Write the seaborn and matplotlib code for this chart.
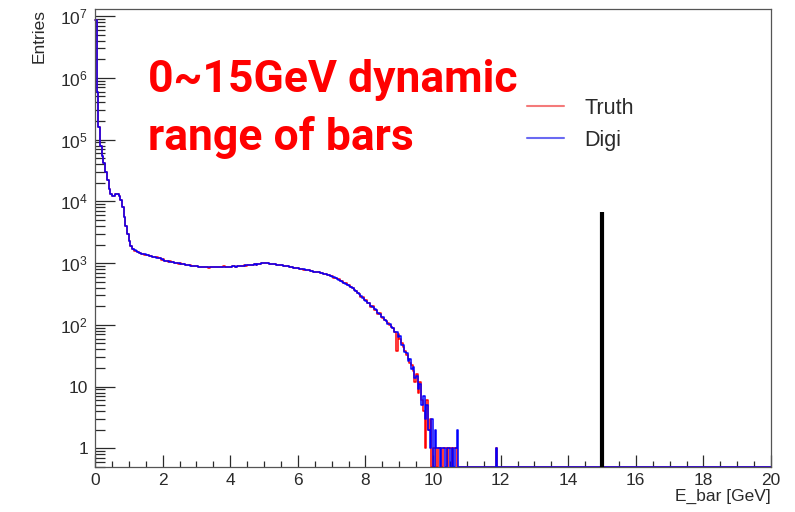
import numpy as np
import pandas as pd
import matplotlib
matplotlib.use("Agg")
import matplotlib.pyplot as plt
import seaborn as sns
from matplotlib.ticker import FixedLocator, FuncFormatter, MultipleLocator, NullFormatter
from matplotlib.lines import Line2D

# ---------------- data ----------------
bin_width = 0.05          # GeV
x_range = (0.0, 20.0)
y_range = (0.5, 1.3e7)
y_decades = [1, 10, 100, 1e3, 1e4, 1e5, 1e6, 1e7]

# Digi counts per 0.05 GeV bin, starting at 0 GeV (bins not listed are empty)
digi_counts = [
    8.5e6, 6.0e5, 1.6e5, 8.0e4, 5.5e4, 4.2e4, 3.0e4, 2.2e4, 1.6e4, 1.3e4,    # 0.0-0.5
    12200, 12400, 13200, 13300, 12000, 10500, 8000, 5600, 4000, 3000,        # 0.5-1.0
    2300, 1900, 1700, 1600, 1550, 1500, 1460, 1430, 1400, 1380,              # 1.0-1.5
    1360, 1340, 1300, 1290, 1260, 1250, 1230, 1200, 1190, 1150,              # 1.5-2.0
    1140, 1100, 1095, 1070, 1060, 1040, 1035, 1010, 1005, 990,               # 2.0-2.5
    985, 965, 960, 940, 935, 930, 910, 905, 900, 890,                        # 2.5-3.0
    885, 878, 872, 876, 862, 860, 872, 852, 860, 866,                        # 3.0-3.5
    858, 870, 855, 866, 872, 860, 878, 866, 874, 880,                        # 3.5-4.0
    876, 888, 890, 880, 897, 902, 906, 896, 912, 916,                        # 4.0-4.5
    922, 932, 924, 942, 952, 944, 962, 976, 986, 1005,                       # 4.5-5.0
    1012, 998, 992, 984, 978, 958, 956, 944, 936, 922,                       # 5.0-5.5
    922, 908, 902, 888, 882, 868, 862, 848, 842, 828,                        # 5.5-6.0
    826, 814, 806, 788, 782, 768, 762, 748, 742, 728,                        # 6.0-6.5
    726, 714, 706, 694, 686, 670, 662, 646, 636, 618,                        # 6.5-7.0
    606, 588, 574, 552, 540, 518, 502, 480, 464, 442,                        # 7.0-7.5
    430, 408, 392, 368, 350, 328, 314, 290, 276, 256,                        # 7.5-8.0
    248, 230, 222, 202, 196, 180, 172, 156, 152, 136,                        # 8.0-8.5
    132, 118, 117, 104, 102, 92, 90, 76, 78, 64,                             # 8.5-9.0
    66, 48, 47, 36, 35, 26, 28, 19, 21, 14,                                  # 9.0-9.5
    15, 9, 11, 5, 7, 3, 5, 2, 1, 3,                                          # 9.5-10.0
    0, 2, 1, 1, 0, 1, 1, 0, 1, 1,                                            # 10.0-10.5
    0, 1, 0, 1, 2, 0, 0, 0, 0, 0,                                            # 10.5-11.0
    0, 0, 0, 0, 0, 0, 0, 0, 0, 0,                                            # 11.0-11.5
    0, 0, 0, 0, 0, 0, 0, 1, 0, 0,                                            # 11.5-12.0
]

# Truth counts per 0.05 GeV bin, starting at 0 GeV
truth_counts = [
    8.5e6, 6.0e5, 1.6e5, 8.0e4, 5.5e4, 4.2e4, 3.0e4, 2.2e4, 1.6e4, 1.3e4,
    12200, 12400, 13200, 13300, 12000, 10500, 8000, 5600, 4000, 3000,
    2300, 1900, 1710, 1590, 1560, 1490, 1470, 1420, 1410, 1370,
    1370, 1330, 1310, 1280, 1270, 1240, 1240, 1190, 1200, 1140,
    1150, 1090, 1100, 1060, 1070, 1030, 1040, 1000, 1010, 985,
    990, 960, 965, 935, 940, 925, 915, 900, 905, 885,
    890, 872, 878, 870, 866, 855, 876, 848, 864, 860,
    862, 866, 858, 862, 876, 856, 882, 862, 878, 876,
    880, 884, 894, 876, 900, 898, 910, 892, 916, 912,
    926, 928, 928, 938, 956, 940, 966, 972, 990, 1000,
    1016, 994, 996, 980, 982, 954, 960, 940, 940, 918,
    926, 904, 906, 884, 886, 864, 866, 844, 846, 824,
    830, 810, 810, 784, 786, 764, 766, 744, 746, 724,
    730, 710, 710, 690, 690, 666, 666, 642, 640, 614,
    610, 584, 578, 548, 544, 514, 506, 476, 468, 438,
    434, 404, 396, 364, 354, 324, 318, 286, 280, 252,
    252, 226, 226, 198, 200, 176, 176, 152, 156, 132,
    130, 120, 114, 106, 100, 94, 88, 78, 38, 70,
    60, 50, 44, 38, 33, 28, 24, 22, 18, 12,
    16, 8, 12, 6, 4, 1, 6, 2, 3, 0,
    1, 1, 0, 1, 1, 0, 1, 1, 0, 1,
    1, 0, 1, 1, 0, 0, 0, 0, 0, 0,
    0, 0, 0, 0, 0, 0, 0, 0, 0, 0,
    0, 0, 0, 0, 0, 0, 0, 1, 0, 0,
]

series_names = ["Truth", "Digi"]
series_colors = {"Truth": "#ff0000", "Digi": "#0000ff"}
legend_colors = {"Truth": "#f47a7a", "Digi": "#6a6af2"}

# vertical marker at the 15 GeV end of the dynamic range
marker_energy = 15.0
marker_top = 6800

annotation_lines = ["0~15GeV dynamic", "range of bars"]
x_label = "E_bar [GeV]"
y_label = "Entries"

# ---------------- style ----------------
sns.set_theme(style="white")
plt.rcParams["font.family"] = ["Liberation Sans", "DejaVu Sans"]
plt.rcParams["mathtext.fontset"] = "custom"
plt.rcParams["mathtext.rm"] = "Liberation Sans"
plt.rcParams["mathtext.it"] = "Liberation Sans:italic"
plt.rcParams["mathtext.bf"] = "Liberation Sans:bold"

W, H = 795, 512
fig = plt.figure(figsize=(W / 100, H / 100), dpi=100)
ax_l, ax_r, ax_t, ax_b = 95, 771, 9, 467
ax = fig.add_axes([ax_l / W, 1 - ax_b / H, (ax_r - ax_l) / W, (ax_b - ax_t) / H])

# ---------------- histogram table ----------------
n_bins = int(round((x_range[1] - x_range[0]) / bin_width))
edges = x_range[0] + np.arange(n_bins + 1) * bin_width
frames = []
for name, counts in [("Truth", truth_counts), ("Digi", digi_counts)]:
    c = np.zeros(n_bins)
    c[: len(counts)] = counts
    shown = np.clip(np.append(c, c[-1]), y_range[0], None)   # empty bins sit on the axis floor
    frames.append(pd.DataFrame({"E": edges, "N": shown, "series": name}))
df = pd.concat(frames, ignore_index=True)

sns.lineplot(
    data=df, x="E", y="N", hue="series", hue_order=series_names,
    palette=series_colors, drawstyle="steps-post", linewidth=1.1,
    estimator=None, sort=False, legend=False, ax=ax,
)
for ln in ax.get_lines():
    ln.set_clip_on(False)

ax.vlines(marker_energy, y_range[0], marker_top, color="black", linewidth=3.0, zorder=5)

# ---------------- axes ----------------
ax.set_yscale("log")
ax.set_xlim(*x_range)
ax.set_ylim(*y_range)

text_color = "#2a2a2a"
ax.xaxis.set_major_locator(MultipleLocator(2))
ax.xaxis.set_minor_locator(MultipleLocator(0.5))
minor_y = [m * d for d in [0.1] + y_decades for m in range(2, 10)
           if y_range[0] <= m * d <= y_range[1]]
ax.yaxis.set_major_locator(FixedLocator(y_decades))
ax.yaxis.set_minor_locator(FixedLocator(minor_y))
ax.yaxis.set_minor_formatter(NullFormatter())
ax.xaxis.set_minor_formatter(NullFormatter())


def fmt_y(v, pos):
    e = int(round(np.log10(v)))
    if e == 0:
        return "1"
    if e == 1:
        return "10"
    return r"$10^{%d}$" % e


ax.yaxis.set_major_formatter(FuncFormatter(fmt_y))

ax.tick_params(bottom=True, left=True, top=False, right=False, which="both")
ax.tick_params(axis="x", which="major", direction="in", length=8.5, width=0.9,
               color=text_color, labelsize=12.5, labelcolor=text_color, pad=4)
ax.tick_params(axis="x", which="minor", direction="in", length=4.3, width=0.9, color=text_color)
ax.tick_params(axis="y", which="major", direction="in", length=14.5, width=0.9,
               color=text_color, labelsize=12.5, labelcolor=text_color, pad=5)
ax.tick_params(axis="y", which="minor", direction="in", length=7.2, width=0.9, color=text_color)

for s in ax.spines.values():
    s.set_color("#555555")
    s.set_linewidth(0.9)
    s.set_visible(True)

ax.set_xlabel(x_label, loc="right", fontsize=12.5, color=text_color)
ax.xaxis.set_label_coords(1.0, -0.048)
ax.set_ylabel(y_label, loc="top", fontsize=12.5, color=text_color)
ax.yaxis.set_label_coords(-0.071, 1.0)
ax.grid(False)

# ---------------- legend ----------------
handles = [Line2D([], [], color=legend_colors[n], linewidth=1.5) for n in series_names]
fig.legend(handles, series_names, loc="upper left",
           bbox_to_anchor=(527 / W, 1 - 98 / H), bbox_transform=fig.transFigure,
           frameon=False, fontsize=15.5, handlelength=1.7, handletextpad=0.95,
           labelspacing=0.5, borderpad=0, borderaxespad=0, labelcolor=text_color)

# ---------------- red annotation ----------------
fig.text(148 / W, 1 - 92 / H, annotation_lines[0], color="#ff0000", fontsize=32,
         fontweight="bold", family=["Roboto", "DejaVu Sans"], ha="left", va="baseline")
fig.text(148 / W, 1 - 150 / H, annotation_lines[1], color="#ff0000", fontsize=32,
         fontweight="bold", family=["Roboto", "DejaVu Sans"], ha="left", va="baseline")

fig.savefig("out.png", dpi=100, facecolor="white")
